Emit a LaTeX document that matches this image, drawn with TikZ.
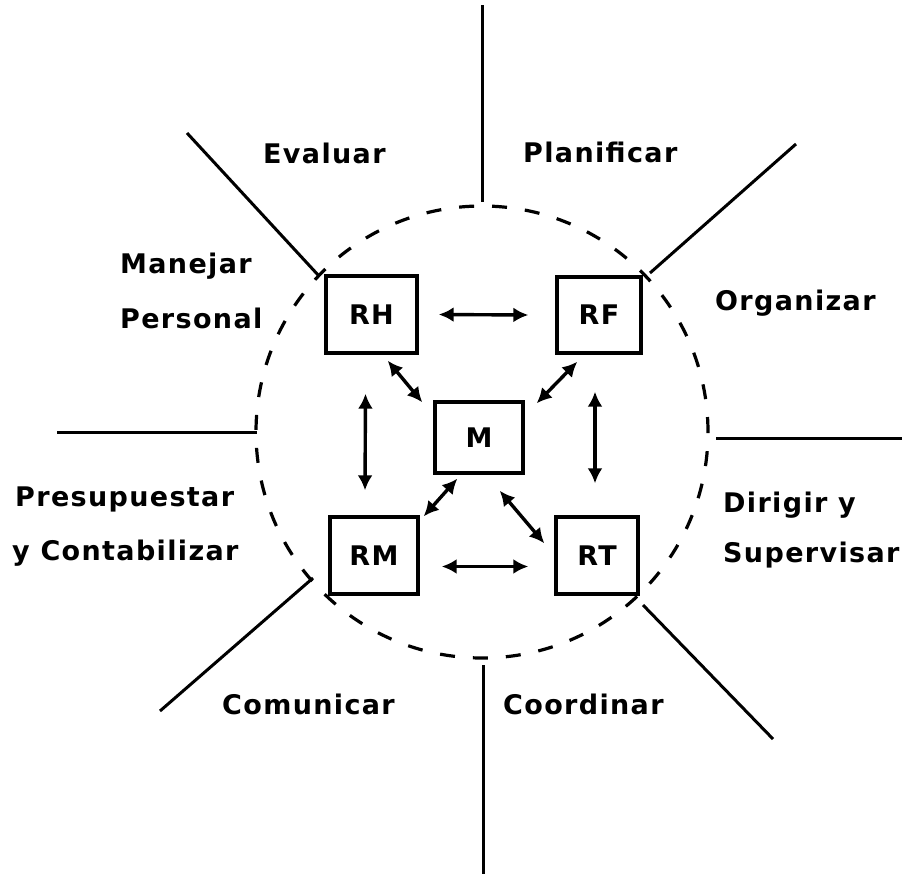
\documentclass[tikz,border=0pt]{standalone}
\usepackage{fontspec}
\newfontfamily\labelfont{DejaVu Sans Bold}[LetterSpace=5]
\usetikzlibrary{arrows.meta,calc}

\begin{document}
\begin{tikzpicture}[x=1bp,y=-1bp,
  txt/.style={font=\labelfont\fontsize{27bp}{32bp}\selectfont, inner sep=0pt, anchor=base west},
  unit/.style={draw, line width=3.4bp, font=\labelfont\fontsize{27bp}{32bp}\selectfont, inner sep=0pt},
  ray/.style={line width=3bp},
  link/.style={line width=3.4bp, {Latex[length=15bp,width=15bp]}-{Latex[length=15bp,width=15bp]}},
  ring/.style={line width=3.2bp, dash pattern=on 15bp off 18bp}]

\useasboundingbox (0,0) rectangle (902,874);

% dashed ring
\coordinate (C) at (482,432);
\draw[ring] (C) circle[radius=226bp];

% the eight dividing rays
\coordinate (tA) at (482,5);    \coordinate (tB) at (482,202);
\coordinate (bA) at (483,665);  \coordinate (bB) at (483,874);
\coordinate (lA) at (57,432);   \coordinate (lB) at (257,432);
\coordinate (rA) at (716,438);  \coordinate (rB) at (902,438);
\coordinate (tlA) at (187,133); \coordinate (tlB) at (319,276);
\coordinate (trA) at (650,273); \coordinate (trB) at (796,144);
\coordinate (blA) at (313,578); \coordinate (blB) at (160,711);
\coordinate (brA) at (643,605); \coordinate (brB) at (773,739);
\draw[ray] (tA) -- (tB);
\draw[ray] (bA) -- (bB);
\draw[ray] (lA) -- (lB);
\draw[ray] (rA) -- (rB);
\draw[ray] (tlA) -- (tlB);
\draw[ray] (trA) -- (trB);
\draw[ray] (blA) -- (blB);
\draw[ray] (brA) -- (brB);

% function labels
\node[txt] (evaluar) at (263,163) {Evaluar};
\node[txt] (planificar) at (523,162) {Planificar};
\node[txt] (manejar) at (120,273) {Manejar};
\node[txt] (personal) at (120,328) {Personal};
\node[txt] (organizar) at (715,310) {Organizar};
\node[txt] (presupuestar) at (15,506) {Presupuestar};
\node[txt] (contabilizar) at (12,560) {y Contabilizar};
\node[txt] (dirigir) at (723,512) {Dirigir y};
\node[txt] (supervisar) at (723,562) {Supervisar};
\node[txt] (comunicar) at (222,714) {Comunicar};
\node[txt] (coordinar) at (503,714) {Coordinar};

% resource boxes
\node[unit, minimum width=91bp, minimum height=77bp] (RH) at (371.5,314.5) {RH};
\node[unit, minimum width=84bp, minimum height=76bp] (RF) at (599,315) {RF};
\node[unit, minimum width=88bp, minimum height=71bp] (M)  at (479,437.5) {M};
\node[unit, minimum width=88bp, minimum height=77bp] (RM) at (374,555.5) {RM};
\node[unit, minimum width=82bp, minimum height=77bp] (RT) at (597,555.5) {RT};

% two-way links
\draw[link] ($(RH.east)+(20,0)$) -- ($(RF.west)+(-27,0)$);
\draw[link] ($(RM.east)+(22,11)$) -- ($(RT.west)+(-26,11)$);
\draw[link] ($(RH.south)+(-6,39)$) -- ($(RM.north)+(-9,-25)$);
\draw[link] ($(RF.south)+(-4,37)$) -- ($(RT.north)+(-2,-32)$);
\draw[link] ($(RH.south east)+(-31,6)$) -- ($(M.north west)+(-11,2)$);
\draw[link] ($(RF.south west)+(22,7)$) -- ($(M.north east)+(12,3)$);
\draw[link] ($(M.south west)+(24,4)$) -- ($(RM.north east)+(4,1)$);
\draw[link] ($(M.south east)+(-25,16)$) -- ($(RT.north west)+(-10,28)$);

\end{tikzpicture}
\end{document}
